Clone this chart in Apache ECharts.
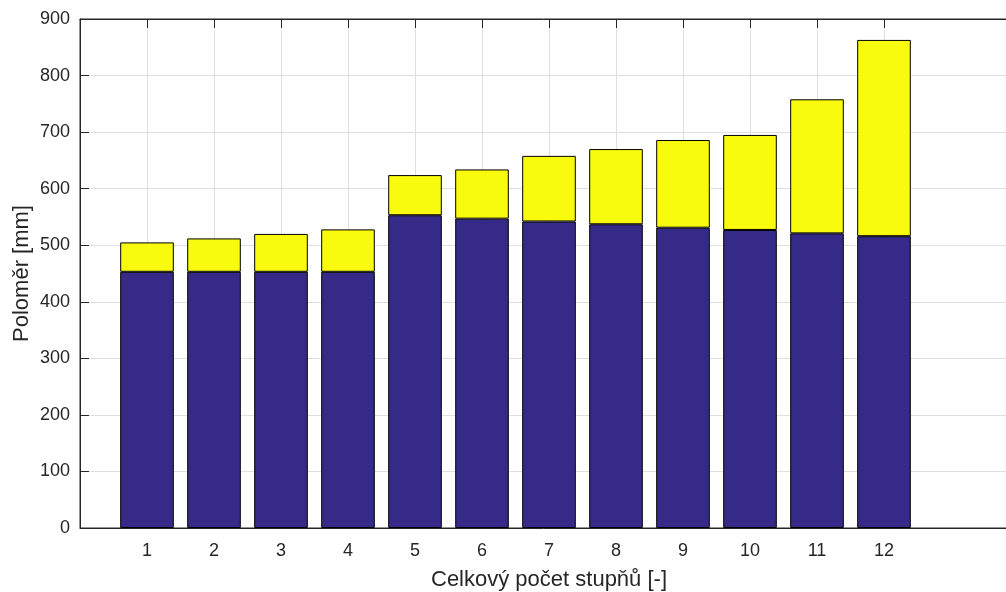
<!DOCTYPE html>
<html>
<head>
<meta charset="utf-8">
<script src="https://cdn.jsdelivr.net/npm/echarts@6/dist/echarts.min.js"></script>
<style>html,body{margin:0;padding:0;background:#fff}#c{width:1006px;height:592px}</style>
</head>
<body>
<div id="c"></div>
<script>
const categories = ['1','2','3','4','5','6','7','8','9','10','11','12'];
const lowerValues = [453,453,453,453,553,547,542,537,531,527,521,516];
const upperValues = [52,59,67,75,71,87,116,133,155,168,237,347];
const yTicks = [0,100,200,300,400,500,600,700,800,900];

const axisData = [''].concat(categories, ['', '']);
const pad = arr => [null].concat(arr, [null, null]);
const showIdx = i => i >= 1 && i <= categories.length;
const FONT = 'Liberation Sans';
const TXT = '#262626';

const chart = echarts.init(document.getElementById('c'), null, {renderer:'canvas'});
chart.setOption({
  animation: false,
  backgroundColor: '#fff',
  grid: {left: 80, top: 19, width: 938, height: 509, outerBoundsMode: 'none', containLabel: false,
         show: true, borderColor: TXT, borderWidth: 1, backgroundColor: 'transparent'},
  xAxis: [{
    type: 'category', data: axisData, boundaryGap: false,
    axisLine: {show: true, lineStyle: {color: TXT, width: 1}},
    axisTick: {show: true, inside: true, length: 9, interval: showIdx, lineStyle: {color: TXT}},
    axisLabel: {interval: showIdx, color: TXT, fontFamily: FONT, fontSize: 18, margin: 14},
    splitLine: {show: true, interval: showIdx, lineStyle: {color: '#dfdfdf', width: 1}},
    name: 'Celkový počet stupňů [-]', nameLocation: 'middle', nameGap: 41, nameMoveOverlap: false,
    nameTextStyle: {color: TXT, fontFamily: FONT, fontSize: 22}
  }, {
    type: 'category', data: axisData, boundaryGap: false, position: 'top',
    axisLine: {show: true, lineStyle: {color: TXT, width: 1}},
    axisTick: {show: true, inside: true, length: 9, interval: showIdx, lineStyle: {color: TXT}},
    axisLabel: {show: false}, splitLine: {show: false}
  }],
  yAxis: {
    type: 'value', min: yTicks[0], max: yTicks[yTicks.length-1], interval: 100,
    axisLine: {show: true, lineStyle: {color: TXT, width: 1}},
    axisTick: {show: true, inside: true, length: 9, lineStyle: {color: TXT}},
    axisLabel: {color: TXT, fontFamily: FONT, fontSize: 18, margin: 10},
    splitLine: {show: true, lineStyle: {color: '#dfdfdf', width: 1}},
    name: 'Poloměr [mm]', nameLocation: 'middle', nameGap: 47, nameMoveOverlap: false,
    nameTextStyle: {color: TXT, fontFamily: FONT, fontSize: 22}
  },
  series: [{
    type: 'bar', stack: 's', data: pad(lowerValues), barWidth: '80%',
    itemStyle: {color: '#352a87', borderColor: '#000', borderWidth: 1}
  }, {
    type: 'bar', stack: 's', data: pad(upperValues), barWidth: '80%',
    itemStyle: {color: '#f9fb0e', borderColor: '#000', borderWidth: 1}
  }]
});
</script>
</body>
</html>
